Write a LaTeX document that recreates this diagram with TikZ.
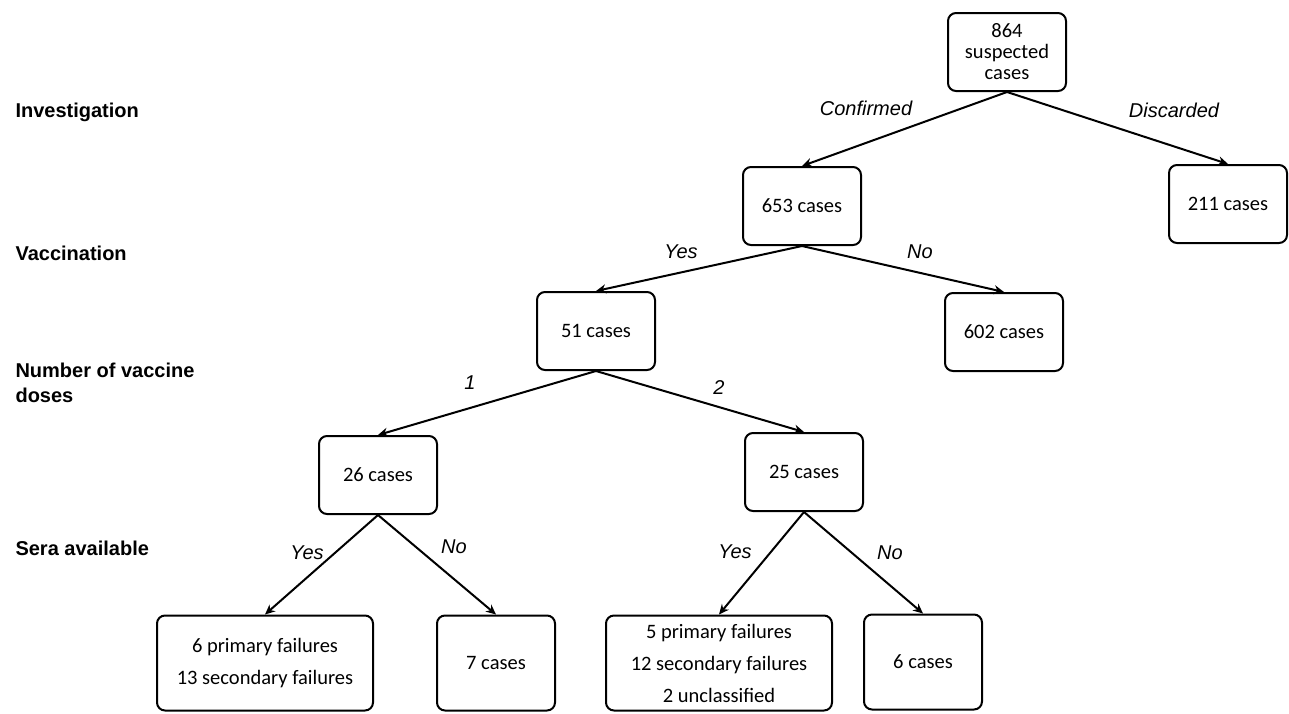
\documentclass[tikz,border=0pt]{standalone}
\usepackage{fontspec}
\setmainfont{Carlito}
\newfontfamily\arialfont{Liberation Sans}
\usetikzlibrary{arrows.meta}

\begin{document}
\begin{tikzpicture}[x=1pt, y=-1pt,
    box/.style={draw, line width=2pt, rounded corners=8pt, minimum width=118pt, minimum height=78pt, align=center, inner sep=2pt, font=\fontsize{20.5}{21}\selectfont},
    widebox/.style={box, minimum height=95pt, font=\fontsize{20.5}{32}\selectfont},
    stage/.style={anchor=base west, align=left, font=\arialfont\bfseries\fontsize{20}{25}\selectfont},
    choice/.style={font=\arialfont\itshape\fontsize{20}{24}\selectfont},
    link/.style={line width=2pt, -{Stealth[length=10pt, width=9pt]}}]
    \useasboundingbox (0,0) rectangle (1289,713);
    %Stages on the left
    \node (investigation) at (12,117) [stage] {Investigation};
    \node (vaccination) at (12,260) [stage] {Vaccination};
    \node (doses) at (12,383) [stage, anchor=west] {Number of vaccine\\doses};
    \node (sera) at (12,555) [stage] {Sera available};
    %Case boxes
    \node (suspected) at (1007,52) [box] {864\\suspected\\cases};
    \node (confirmed) at (802,206) [box] {653 cases};
    \node (discarded) at (1228,204) [box] {211 cases};
    \node (vaccinated) at (596,331) [box] {51 cases};
    \node (unvaccinated) at (1004,332) [box] {602 cases};
    \node (onedose) at (378,475) [box] {26 cases};
    \node (twodoses) at (804,472) [box] {25 cases};
    \node (oneyes) at (265,663) [widebox, minimum width=216pt] {6 primary failures\\13 secondary failures};
    \node (oneno) at (496,663) [widebox] {7 cases};
    \node (twoyes) at (719,663) [widebox, minimum width=226pt] {5 primary failures\\12 secondary failures\\2 unclassified};
    \node (twono) at (923,662) [widebox] {6 cases};
    %Branches
    \draw[link] (suspected.south) -- (confirmed.north);
    \draw[link] (suspected.south) -- (discarded.north);
    \draw[link] (confirmed.south) -- (vaccinated.north);
    \draw[link] (confirmed.south) -- (unvaccinated.north);
    \draw[link] (vaccinated.south) -- (onedose.north);
    \draw[link] (vaccinated.south) -- (twodoses.north);
    \draw[link] (onedose.south) -- (oneyes.north);
    \draw[link] (onedose.south) -- (oneno.north);
    \draw[link] (twodoses.south) -- (twoyes.north);
    \draw[link] (twodoses.south) -- (twono.north);
    %Branch labels
    \node (lconfirmed) at (866,108) [choice] {Confirmed};
    \node (ldiscarded) at (1174,110) [choice] {Discarded};
    \node (lvacyes) at (681,252) [choice] {Yes};
    \node (lvacno) at (920,252) [choice] {No};
    \node (lone) at (470,383) [choice] {1};
    \node (ltwo) at (719,388) [choice] {2};
    \node (loneyes) at (307,553) [choice] {Yes};
    \node (loneno) at (454,547) [choice] {No};
    \node (ltwoyes) at (735,552) [choice] {Yes};
    \node (ltwono) at (890,553) [choice] {No};
\end{tikzpicture}
\end{document}
